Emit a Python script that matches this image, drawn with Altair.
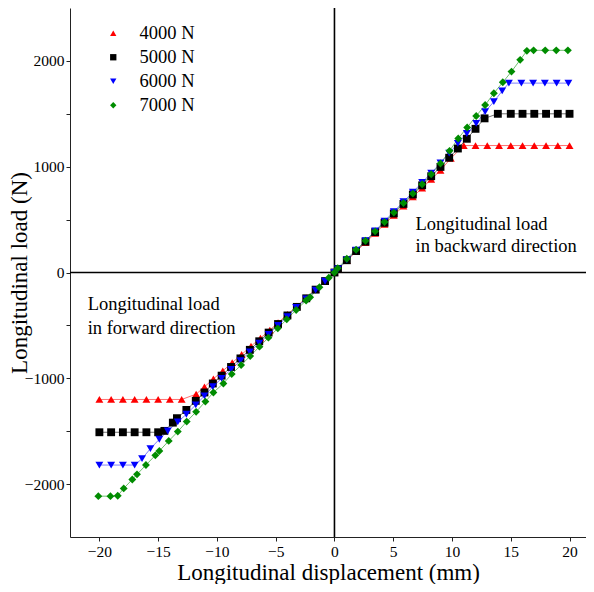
import altair as alt
import pandas as pd

# ---- data ----
series_names = ["4000 N", "5000 N", "6000 N", "7000 N"]

x_4000 = [-20, -19, -18, -17, -16, -15, -14, -13, -11.77, -11.06, -10.3, -9.5, -8.7, -7.9, -7.1,
          -6.3, -5.5, -4.8, -4.0, -3.2, -2.4, -1.6, -0.8, 0, 0.3, 1.05, 1.84, 2.64, 3.46, 4.26,
          5.05, 5.87, 6.67, 7.46, 8.23, 9.02, 9.9, 11, 12, 13, 14, 15, 16, 17, 18, 19, 20]
y_4000 = [-1200, -1200, -1200, -1200, -1200, -1200, -1200, -1200, -1150, -1081, -1005, -930, -852, -775, -697,
          -620, -545, -475, -395, -318, -240, -160, -82, 0, 32, 112, 197, 283, 370, 456,
          541, 628, 714, 798, 881, 965, 1080, 1200, 1200, 1200, 1200, 1200, 1200, 1200, 1200, 1200, 1200]

x_5000 = [-20, -19, -18, -17, -16, -15, -14.47, -13.75, -13.4, -12.6, -11.8, -11.06, -10.35, -9.6, -8.8,
          -8.0, -7.2, -6.4, -5.6, -4.8, -4.0, -3.2, -2.4, -1.6, -0.8, 0, 0.3, 1.05, 1.84, 2.64,
          3.46, 4.26, 5.05, 5.87, 6.67, 7.46, 8.23, 9.02, 9.76, 10.5, 11.26, 12.0, 12.77, 13.9, 15,
          16, 17, 18, 19, 20]
y_5000 = [-1510, -1510, -1510, -1510, -1510, -1510, -1497, -1419, -1377, -1299, -1213, -1134, -1049, -975, -893,
          -812, -731, -650, -568, -487, -406, -325, -244, -162, -81, 0, 33, 116, 203, 292,
          382, 470, 558, 648, 737, 824, 910, 998, 1085, 1172, 1264, 1358, 1457, 1500, 1500,
          1500, 1500, 1500, 1500, 1500]

x_6000 = [-20, -19, -18, -17, -16.37, -15.66, -14.9, -14.18, -13.33, -12.6, -11.8, -11.06, -10.35, -9.6, -8.8,
          -8.0, -7.2, -6.4, -5.6, -4.8, -4.0, -3.26, -2.4, -1.6, -0.8, 0, 0.3, 1.05, 1.84, 2.64,
          3.46, 4.26, 5.05, 5.87, 6.67, 7.46, 8.23, 9.02, 9.76, 10.5, 11.26, 12.06, 12.82, 13.56, 14.27,
          14.84, 15.9, 16.9, 17.9, 18.9, 19.9]
y_6000 = [-1820, -1820, -1820, -1820, -1760, -1665, -1576, -1498, -1412, -1340, -1251, -1166, -1080, -1000, -917,
          -834, -750, -667, -584, -500, -417, -329, -250, -167, -83, 0, 34, 120, 210, 301,
          394, 485, 576, 669, 760, 851, 940, 1035, 1128, 1220, 1314, 1409, 1520, 1615, 1716,
          1790, 1790, 1790, 1790, 1790, 1790]

x_7000 = [-20.09, -19.06, -18.44, -17.93, -17.2, -16.8, -16.04, -15.24, -14.9, -14.1, -13.33, -12.57, -11.77, -10.98, -10.3,
          -9.45, -8.74, -7.94, -7.17, -6.38, -5.62, -4.82, -4.06, -3.26, -2.41, -2.07, -1.28, -0.48, 0, 0.28,
          1.05, 1.84, 2.64, 3.46, 4.26, 5.05, 5.87, 6.67, 7.46, 8.23, 9.02, 9.79, 10.53, 11.29, 12.06,
          12.82, 13.56, 14.32, 15.06, 15.8, 16.37, 16.94, 17.93, 18.87, 19.86]
y_7000 = [-2114, -2114, -2110, -2041, -1956, -1908, -1820, -1728, -1687, -1592, -1504, -1409, -1317, -1220, -1134,
          -1049, -960, -875, -790, -701, -616, -528, -443, -354, -265, -234, -139, -50, 0, 41,
          130, 215, 300, 389, 477, 566, 657, 746, 834, 929, 1030, 1150, 1267, 1371, 1479,
          1583, 1694, 1798, 1899, 2010, 2095, 2100, 2100, 2100, 2100]

marker_colors = ["#ff0000", "#000000", "#0000ff", "#008c00"]
line_colors = ["#ff7070", "#707070", "#8080ff", "#70c070"]
marker_shapes = ["triangle-up", "square", "triangle-down", "diamond"]

x_all_ticks = [-20, -17.5, -15, -12.5, -10, -7.5, -5, -2.5, 0, 2.5, 5, 7.5, 10, 12.5, 15, 17.5, 20]
y_all_ticks = [-2000, -1500, -1000, -500, 0, 500, 1000, 1500, 2000]

note_x = [6.9, 6.9, -21.0, -21.0]
note_y = [454, 246, -302, -520]
note_text = ["Longitudinal load", "in backward direction", "Longitudinal load", "in forward direction"]

# ---- build table ----
rows = []
for name, xs, ys in zip(series_names, [x_4000, x_5000, x_6000, x_7000], [y_4000, y_5000, y_6000, y_7000]):
    for i, (xv, yv) in enumerate(zip(xs, ys)):
        rows.append({"series": name, "x": xv, "y": yv, "idx": i})
df = pd.DataFrame(rows)
notes = pd.DataFrame({"x": note_x, "y": note_y, "text": note_text})

FONT = "Liberation Serif"

x_scale = alt.Scale(domain=[-22.5, 21.4], nice=False, zero=False)
y_scale = alt.Scale(domain=[-2500, 2500], nice=False, zero=False)

x_axis = alt.Axis(values=x_all_ticks, labelExpr="datum.value % 5 == 0 ? datum.label : ''",
                  title="Longitudinal displacement (mm)", grid=False, tickSize=4,
                  domainColor="#222222", tickColor="#222222", labelFontSize=15.5, titleFontSize=23,
                  labelFont=FONT, titleFont=FONT, titleFontWeight="normal", labelColor="black",
                  titleColor="black", labelPadding=3, titlePadding=2)
y_axis = alt.Axis(values=y_all_ticks, labelExpr="datum.value % 1000 == 0 ? datum.label : ''",
                  title="Longitudinal load (N)", grid=False, tickSize=4, format="d",
                  domainColor="#222222", tickColor="#222222", labelFontSize=15.5, titleFontSize=23,
                  labelFont=FONT, titleFont=FONT, titleFontWeight="normal", labelColor="black",
                  titleColor="black", labelPadding=2, titlePadding=-7)

base = alt.Chart(df)

lines = base.mark_line(strokeWidth=1).encode(
    x=alt.X("x:Q", scale=x_scale, axis=x_axis),
    y=alt.Y("y:Q", scale=y_scale, axis=y_axis),
    detail="series:N",
    color=alt.Color("series:N", scale=alt.Scale(domain=series_names, range=line_colors), legend=None),
    order="idx:Q",
)

points = base.mark_point(filled=True, opacity=1, size=62).encode(
    x=alt.X("x:Q", scale=x_scale),
    y=alt.Y("y:Q", scale=y_scale),
    shape=alt.Shape("series:N", scale=alt.Scale(domain=series_names, range=marker_shapes),
                    legend=alt.Legend(title=None, orient="none", legendX=34, legendY=16,
                                      labelFont=FONT, labelFontSize=18.5, labelColor="black",
                                      symbolSize=40, rowPadding=5, labelOffset=17, padding=0)),
    fill=alt.Fill("series:N", scale=alt.Scale(domain=series_names, range=marker_colors), legend=None),
)

vrule = alt.Chart().mark_rule(color="black", strokeWidth=1.6).encode(x=alt.datum(0, scale=x_scale))
hrule = alt.Chart().mark_rule(color="black", strokeWidth=1.6).encode(y=alt.datum(0, scale=y_scale))

texts = alt.Chart(notes).mark_text(align="left", baseline="middle", font=FONT, fontSize=18.5,
                                   color="black").encode(
    x=alt.X("x:Q", scale=x_scale), y=alt.Y("y:Q", scale=y_scale), text="text:N")

chart = alt.layer(vrule, hrule, lines, points, texts).resolve_scale(
    color="independent", fill="independent", shape="independent"
).properties(
    width=516, height=529,
    autosize=alt.AutoSizeParams(type="none"),
    padding={"left": 62, "top": 0, "right": 0, "bottom": 47},
).configure_view(stroke=None).configure_legend(symbolStrokeWidth=0)

chart.save("out.html", embed_options={"renderer": "svg", "actions": False})
